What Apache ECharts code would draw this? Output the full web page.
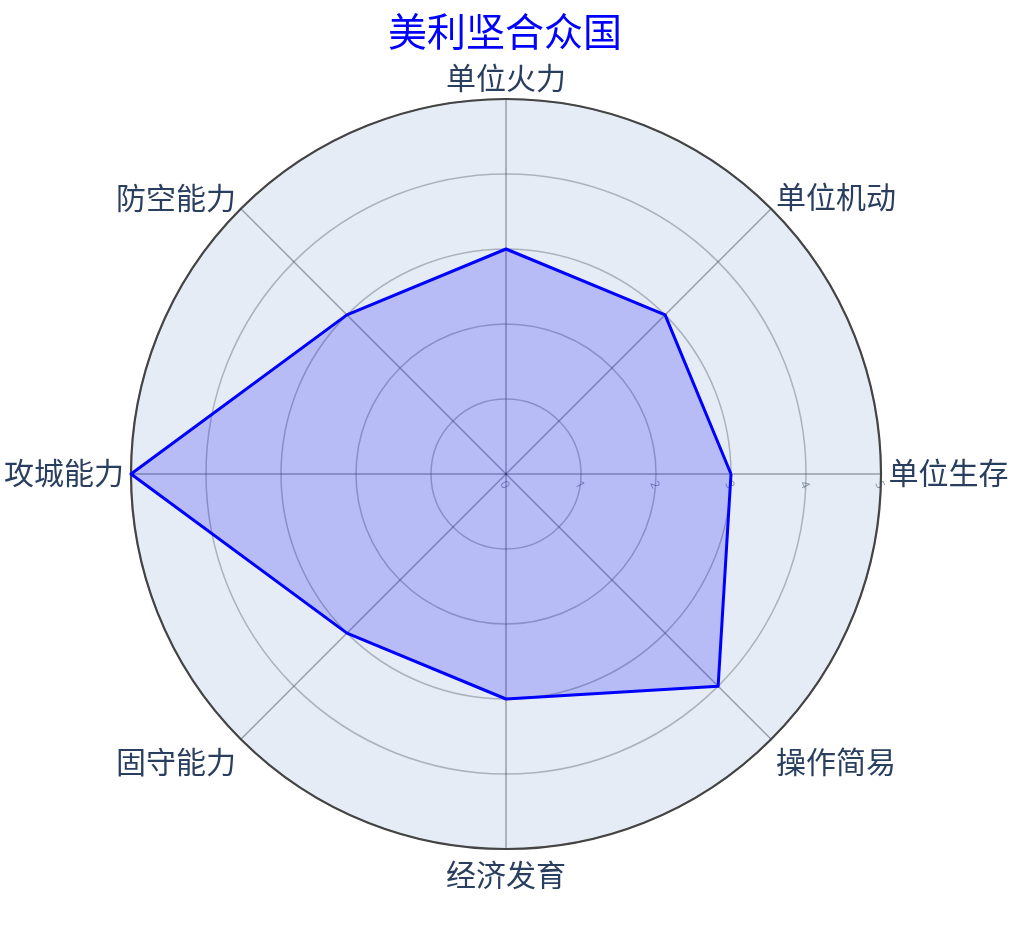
<!DOCTYPE html>
<html>
<head>
<meta charset="utf-8">
<script src="https://cdn.jsdelivr.net/npm/echarts@6/dist/echarts.min.js"></script>
<style>html,body{margin:0;padding:0;background:#fff;}#c{width:1010px;height:929px;}</style>
</head>
<body>
<div id="c"></div>
<script>
const titleText = '美利坚合众国';
const categories = ['单位生存', '单位机动', '单位火力', '防空能力', '攻城能力', '固守能力', '经济发育', '操作简易'];
const values = [3, 3, 3, 3, 5, 3, 3, 4];
const radialMax = 5;

// padding [top, bottom] (px) of each axis name, used only to nudge its placement
const namePad = [[2, 0], [0, 8], [0, -3], [0, 6], [2, 0], [40, 0], [6, 0], [40, 0]];

const FONT = '"Open Sans", "Noto Sans CJK SC", sans-serif';
const chart = echarts.init(document.getElementById('c'));
const rich = {};
namePad.forEach((p, i) => {
  rich['n' + i] = {
    color: '#2a3f5f', fontSize: 30, fontFamily: FONT,
    padding: [p[0], 0, p[1], 0]
  };
});
const indicators = categories.map((name, i) => {
  const ind = { name: name, min: 0, max: radialMax };
  if (i === 0) {
    ind.axisLabel = { show: true, color: 'rgba(42,63,95,0.5)', fontSize: 12, rotate: -65, margin: -14, fontFamily: FONT };
  }
  return ind;
});
chart.setOption({
  backgroundColor: '#fff',
  title: {
    text: titleText, left: 'center', top: 10,
    textStyle: { color: '#0000ff', fontSize: 39, fontWeight: 'normal', fontFamily: FONT }
  },
  radar: [{
    center: [506, 474], radius: 375, startAngle: 0,
    shape: 'circle', splitNumber: 5,
    indicator: indicators,
    nameGap: 7,
    axisName: {
      color: '#2a3f5f', fontSize: 30, fontFamily: FONT,
      formatter: function (name) {
        const i = categories.indexOf(name);
        return '{n' + i + '|' + name + '}';
      },
      rich: rich
    },
    splitArea: { areaStyle: { color: ['#E5ECF6'] } },
    splitLine: { lineStyle: { color: 'rgba(80,85,95,0.38)', width: 1.5 } },
    axisLine: { lineStyle: { color: 'rgba(60,65,75,0.45)', width: 1.5 } },
    axisTick: { show: false },
    axisLabel: { show: false }
  }, {
    center: [506, 474], radius: 375, startAngle: 0,
    shape: 'circle', splitNumber: 1,
    indicator: categories.map(n => ({ name: '', max: radialMax })),
    axisName: { show: false },
    splitArea: { show: false },
    splitLine: { lineStyle: { color: ['rgba(0,0,0,0)', '#444'], width: 2.2 } },
    axisLine: { show: false }, axisTick: { show: false }, axisLabel: { show: false }
  }],
  series: [{
    type: 'radar', radarIndex: 0, symbol: 'none',
    lineStyle: { color: '#0000ff', width: 3 },
    areaStyle: { color: 'rgba(0,0,255,0.2)', opacity: 1 },
    data: [{ value: values, name: titleText }]
  }]
});
</script>
</body>
</html>
